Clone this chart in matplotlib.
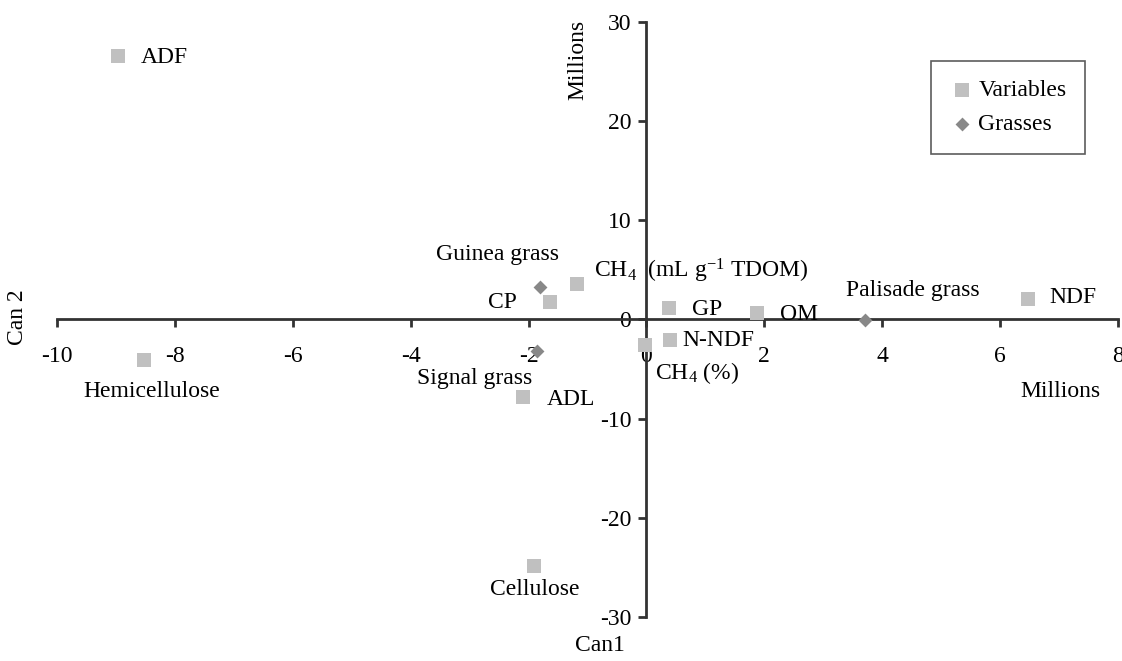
import numpy as np
import matplotlib.pyplot as plt

plt.rcParams['font.family'] = ['Liberation Serif', 'DejaVu Serif']
plt.rcParams['mathtext.fontset'] = 'custom'
plt.rcParams['mathtext.rm'] = 'Liberation Serif'
plt.rcParams['mathtext.it'] = 'Liberation Serif'
plt.rcParams['axes.unicode_minus'] = False
plt.rcParams['font.size'] = 17

# canonical scores (Millions)
var_names = ['ADF', 'Hemicellulose', 'CP', r'CH$_{4}$  (mL g$^{\mathregular{-1}}$ TDOM)', 'GP', 'OM', 'NDF',
             'N-NDF', r'CH$_{4}$ (%)', 'ADL', 'Cellulose']
var_x = [-8.97, -8.53, -1.63, -1.18, 0.38, 1.87, 6.47, 0.40, -0.03, -2.09, -1.90]
var_y = [26.6, -4.1, 1.8, 3.6, 1.2, 0.7, 2.1, -2.1, -2.6, -7.8, -24.9]

grass_names = ['Guinea grass', 'Signal grass', 'Palisade grass']
grass_x = [-1.80, -1.86, 3.70]
grass_y = [3.3, -3.2, -0.1]

# label offsets in pixels (dx, dy, ha)
var_off = [(23, -2, 'left'), (8, -31, 'center'), (-33, -1, 'right'), (17, 13, 'left'),
           (23, -2, 'left'), (23, -2, 'left'), (22, 1, 'left'), (12, 0, 'left'),
           (10, -28, 'left'), (24, -3, 'left'), (0, -23, 'center')]
grass_off = [(-43, 32, 'center'), (-62, -27, 'center'), (48, 30, 'center')]

fig = plt.figure(figsize=(11.22, 6.61), dpi=100)
ax = fig.add_axes([0.0508, 0.0666, 0.9456, 0.9001])

ax.scatter(var_x, var_y, marker='s', s=110, color='#c0c0c0', linewidths=0, label='Variables', zorder=3)
ax.scatter(grass_x, grass_y, marker='D', s=50, color='#888888', linewidths=0, label='Grasses', zorder=3)

for n, x, y, (dx, dy, ha) in zip(var_names, var_x, var_y, var_off):
    ax.annotate(n, (x, y), xytext=(dx, dy), textcoords='offset pixels', ha=ha, va='center')
for n, x, y, (dx, dy, ha) in zip(grass_names, grass_x, grass_y, grass_off):
    ax.annotate(n, (x, y), xytext=(dx, dy), textcoords='offset pixels', ha=ha, va='center')

ax.set_xlim(-10, 8)
ax.set_ylim(-30, 30)
ax.set_xticks(np.arange(-10, 9, 2))
ax.set_yticks(np.arange(-30, 31, 10))
for s in ['top', 'right']:
    ax.spines[s].set_visible(False)
ax.spines['left'].set_position(('data', 0))
ax.spines['bottom'].set_position(('data', 0))
for s in ['left', 'bottom']:
    ax.spines[s].set_linewidth(2)
    ax.spines[s].set_color('#333333')
ax.tick_params(axis='x', direction='out', length=6, width=2, color='#333333', pad=13, labelsize=17)
ax.tick_params(axis='y', direction='out', length=6, width=2, color='#333333', pad=5, labelsize=17)
ax.patch.set_alpha(0)

fig.text(0.016, 0.52, 'Can 2', rotation=90, ha='center', va='center')
fig.text(0.515, 0.91, 'Millions', rotation=90, ha='center', va='center')
fig.text(0.535, 0.024, 'Can1', ha='center', va='center')
fig.text(0.945, 0.408, 'Millions', ha='center', va='center')

leg = ax.legend(loc='center', bbox_to_anchor=(0.829, 0.780, 0.135, 0.153),
                frameon=True, fancybox=False, edgecolor='#333333', handletextpad=0.2,
                handlelength=1.0, borderpad=0.8, labelspacing=0.5, fontsize=17)
leg.get_frame().set_linewidth(1.2)

fig.savefig('out.png', dpi=100)
